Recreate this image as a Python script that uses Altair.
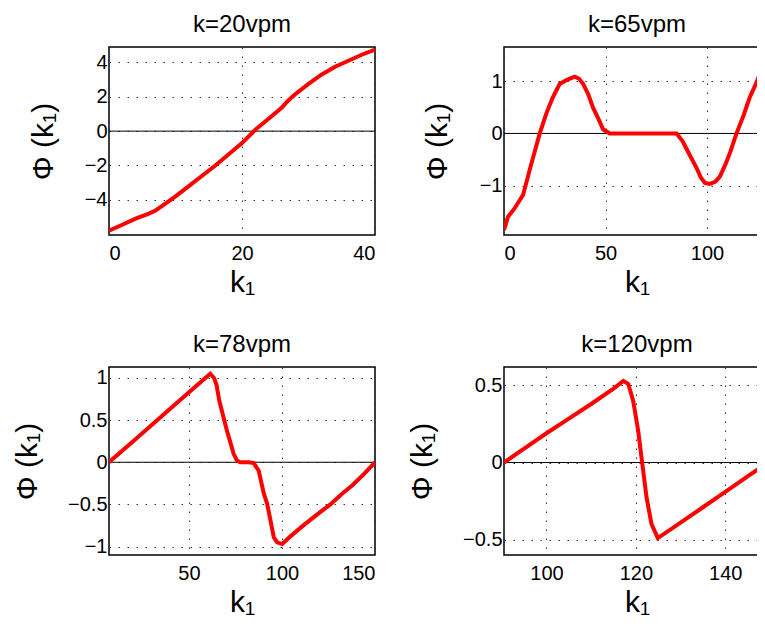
import altair as alt
import pandas as pd

# ---- data ----
titles = ["k=20vpm", "k=65vpm", "k=78vpm", "k=120vpm"]

k20_x = [0, 2, 4, 6, 7, 8, 10, 12, 14, 16, 18, 20, 22, 24, 26, 27, 28, 30, 32, 34, 36, 38, 40]
k20_y = [-5.8, -5.45, -5.1, -4.8, -4.62, -4.35, -3.8, -3.2, -2.6, -2.0, -1.35, -0.7, 0.08,
         0.72, 1.38, 1.8, 2.15, 2.75, 3.3, 3.75, 4.1, 4.45, 4.75]

k65_x = [0, 2, 5, 9.4, 13, 17.6, 21, 24, 27.4, 31, 34.8, 37, 39, 41.5, 43.8, 46.5, 48.8, 52,
         60, 70, 80, 85, 88, 91, 94.8, 97, 99, 101.3, 104, 106.3, 109, 111.5, 114.5, 118,
         121, 124, 126, 128.5, 131]
k65_y = [-1.85, -1.6, -1.45, -1.18, -0.65, 0.0, 0.4, 0.69, 0.95, 1.03, 1.09, 1.05, 0.95, 0.75,
         0.5, 0.28, 0.08, 0.0, 0.0, 0.0, 0.0, 0.0, -0.15, -0.38, -0.66, -0.85, -0.95, -0.97,
         -0.93, -0.83, -0.6, -0.35, 0.0, 0.35, 0.69, 0.95, 1.14, 1.4, 1.62]

k78_x = [7, 20, 35, 50, 61.4, 63.5, 64.8, 66.3, 70.4, 74, 75.8, 77.5, 82, 84.8, 87.5, 90.2,
         92, 93.8, 95.6, 97.4, 100.1, 105, 112, 120, 126, 132, 138, 144, 150]
k78_y = [0, 0.25, 0.54, 0.83, 1.05, 1.0, 0.92, 0.73, 0.375, 0.1, 0.02, 0.0, 0.0, -0.01, -0.1,
         -0.37, -0.49, -0.69, -0.89, -0.95, -0.97, -0.87, -0.74, -0.6, -0.5, -0.38, -0.27,
         -0.14, 0.0]

k120_x = [90.5, 95, 100, 105, 110, 115, 117.2, 118.3, 119.4, 120.5, 121.4, 122.4, 123.5,
          124.9, 130, 135, 140, 145, 150]
k120_y = [0, 0.09, 0.19, 0.285, 0.38, 0.48, 0.53, 0.51, 0.4, 0.21, 0.0, -0.23, -0.4, -0.49,
          -0.39, -0.29, -0.19, -0.09, 0.01]

x_domains = [[0, 40], [0, 131], [7, 150], [90.5, 150]]
y_domains = [[-6.05, 4.9], [-1.95, 1.66], [-1.1, 1.13], [-0.6, 0.62]]
x_ticks = [[0, 20, 40], [0, 50, 100], [50, 100, 150], [100, 120, 140]]
y_ticks = [[-4, -2, 0, 2, 4], [-1, 0, 1], [-1, -0.5, 0, 0.5, 1], [-0.5, 0, 0.5]]
# horizontal position of each y-axis title, relative to its plot's left edge
y_title_x = [-65.5, -67, -81.5, -82]

FONT = "Liberation Sans"
W, H = 266, 188


def panel(xs, ys, title, xdom, ydom, xt, yt, ytx):
    df = pd.DataFrame({"k1": xs, "phi": ys})
    zero_df = pd.DataFrame({"phi": [0]})
    xsc = alt.Scale(domain=xdom, nice=False, zero=False)
    ysc = alt.Scale(domain=ydom, nice=False, zero=False)
    yaxis = alt.Axis(values=yt, title="\u03a6 (k\u2081)", labelPadding=2, tickSize=0,
                     titleX=ytx, titleBaseline="middle", format="~f")
    xaxis = alt.Axis(values=xt, title="k\u2081", labelPadding=8, tickSize=0,
                     titleY=56, titleBaseline="alphabetic", format="~f")
    zero = alt.Chart(zero_df).mark_rule(color="black", strokeWidth=1).encode(
        y=alt.Y("phi:Q", scale=ysc, axis=yaxis)
    )
    line = alt.Chart(df).mark_line(color="#ff0000", strokeWidth=4, clip=True).encode(
        x=alt.X("k1:Q", scale=xsc, axis=xaxis),
        y=alt.Y("phi:Q", scale=ysc, axis=yaxis),
    )
    return alt.layer(zero, line).properties(width=W, height=H, title=title)


datasets = [(k20_x, k20_y), (k65_x, k65_y), (k78_x, k78_y), (k120_x, k120_y)]
panels = [
    panel(d[0], d[1], titles[i], x_domains[i], y_domains[i], x_ticks[i], y_ticks[i], y_title_x[i])
    for i, d in enumerate(datasets)
]

chart = (
    alt.concat(*panels, columns=2, spacing=alt.RowColnumber(row=132, column=129), bounds="flush")
    .resolve_scale(x="independent", y="independent")
    .properties(padding={"left": 3, "top": 4, "right": -15, "bottom": 0})
    .configure_view(stroke="black", strokeWidth=1.5)
    .configure_axis(
        grid=True,
        gridColor="#333333",
        gridDash=[1.5, 7.5],
        gridWidth=1,
        domain=False,
        ticks=False,
        labelFont=FONT,
        labelFontSize=20,
        labelColor="black",
        titleFont=FONT,
        titleFontSize=30,
        titleFontWeight="normal",
        titleColor="black",
    )
    .configure_title(font=FONT, fontSize=24, fontWeight="normal", color="black", offset=10)
)

chart.save("out.html", embed_options={"renderer": "svg", "actions": False})
